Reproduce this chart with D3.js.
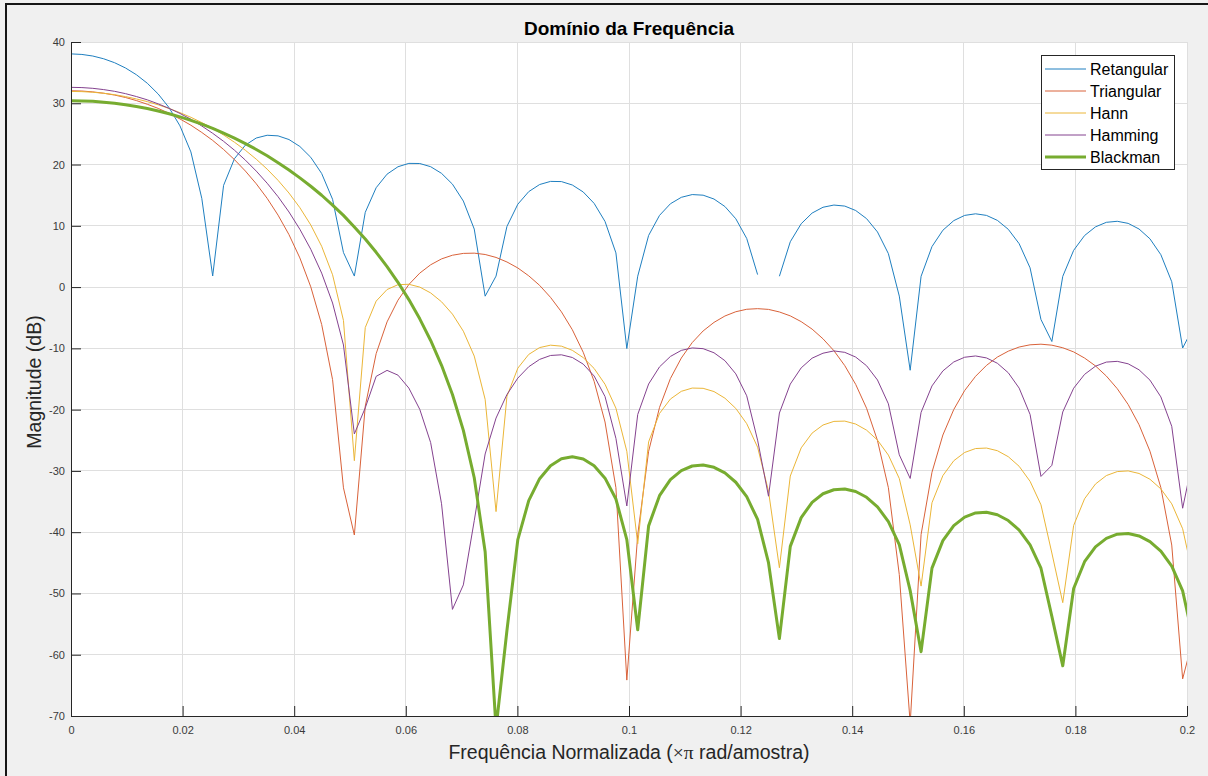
<!DOCTYPE html>
<html>
<head>
<meta charset="utf-8">
<script src="https://cdn.jsdelivr.net/npm/d3@7"></script>
<style>
  html, body { margin: 0; padding: 0; background: #f0f0f0; }
  svg { display: block; font-family: "Liberation Sans", Arial, Helvetica, sans-serif; }
</style>
</head>
<body>
<svg id="chart" width="1208" height="776"></svg>
<script>
// Normalized frequency grid (x pi rad/sample), 512-point freqz spacing
const freq = [
  0, 0.001953, 0.003906, 0.005859, 0.007813, 0.009766, 0.011719, 0.013672, 0.015625, 0.017578,
  0.019531, 0.021484, 0.023438, 0.025391, 0.027344, 0.029297, 0.03125, 0.033203, 0.035156, 0.037109,
  0.039063, 0.041016, 0.042969, 0.044922, 0.046875, 0.048828, 0.050781, 0.052734, 0.054688, 0.056641,
  0.058594, 0.060547, 0.0625, 0.064453, 0.066406, 0.068359, 0.070313, 0.072266, 0.074219, 0.076172,
  0.078125, 0.080078, 0.082031, 0.083984, 0.085938, 0.087891, 0.089844, 0.091797, 0.09375, 0.095703,
  0.097656, 0.099609, 0.101563, 0.103516, 0.105469, 0.107422, 0.109375, 0.111328, 0.113281, 0.115234,
  0.117188, 0.119141, 0.121094, 0.123047, 0.125, 0.126953, 0.128906, 0.130859, 0.132813, 0.134766,
  0.136719, 0.138672, 0.140625, 0.142578, 0.144531, 0.146484, 0.148438, 0.150391, 0.152344, 0.154297,
  0.15625, 0.158203, 0.160156, 0.162109, 0.164063, 0.166016, 0.167969, 0.169922, 0.171875, 0.173828,
  0.175781, 0.177734, 0.179688, 0.181641, 0.183594, 0.185547, 0.1875, 0.189453, 0.191406, 0.193359,
  0.195313, 0.197266, 0.199219, 0.201172
];

// Magnitude responses in dB (null = exact zero, log undefined)
const retangular = [
  38.06, 37.97, 37.71, 37.26, 36.62, 35.76, 34.66, 33.27, 31.51, 29.28,
  26.31, 22.06, 14.48, 1.81, 16.60, 20.96, 23.17, 24.33, 24.78, 24.68,
  24.08, 22.95, 21.18, 18.54, 14.33, 5.64, 1.80, 12.20, 16.22, 18.43,
  19.64, 20.19, 20.17, 19.65, 18.56, 16.80, 14.04, 9.47, -1.48, 1.79,
  9.90, 13.53, 15.58, 16.74, 17.25, 17.22, 16.66, 15.52, 13.66, 10.71,
  5.58, -10.03, 1.78, 8.43, 11.70, 13.60, 14.65, 15.10, 15.00, 14.37,
  13.15, 11.15, 7.94, 2.04, null, 1.77, 7.40, 10.34, 12.08, 13.03,
  13.39, 13.22, 12.50, 11.17, 9.00, 5.46, -1.47, -13.57, 1.76, 6.61,
  9.28, 10.85, 11.70, 11.96, 11.70, 10.89, 9.43, 7.08, 3.14, -5.29,
  -8.88, 1.75, 6.00, 8.41, 9.83, 10.57, 10.74, 10.40, 9.48, 7.88,
  5.29, 0.87, -9.94, -6.52
];

const triangular = [
  32.04, 32.00, 31.86, 31.64, 31.34, 30.94, 30.44, 29.84, 29.16, 28.36,
  27.44, 26.42, 25.24, 23.94, 22.46, 20.80, 18.94, 16.86, 14.48, 11.74,
  8.56, 4.76, 0.04, -6.10, -15.10, -32.76, -40.46, -19.44, -10.86, -5.68,
  -2.14, 0.42, 2.28, 3.64, 4.60, 5.20, 5.50, 5.54, 5.32, 4.84,
  4.10, 3.12, 1.84, 0.28, -1.68, -4.04, -6.96, -10.64, -15.38, -22.02,
  -32.74, -64.14, -40.42, -26.80, -19.64, -14.92, -11.58, -9.06, -7.16, -5.76,
  -4.72, -4.02, -3.62, -3.52, -3.64, -4.06, -4.70, -5.64, -6.86, -8.44,
  -10.38, -12.82, -15.88, -19.78, -25.04, -32.74, -46.92, -71.22, -40.38, -30.22,
  -24.14, -19.98, -16.88, -14.56, -12.78, -11.42, -10.46, -9.78, -9.42, -9.32,
  -9.48, -9.90, -10.58, -11.58, -12.86, -14.52, -16.58, -19.16, -22.46, -26.78,
  -32.72, -42.10, -63.94, -57.08
];

const hann = [
  31.93, 31.90, 31.80, 31.63, 31.40, 31.09, 30.71, 30.27, 29.75, 29.15,
  28.47, 27.71, 26.85, 25.92, 24.82, 23.64, 22.33, 20.87, 19.25, 17.42,
  15.35, 12.96, 10.14, 6.66, 2.01, -5.44, -28.33, -6.60, -2.29, -0.40,
  0.39, 0.46, 0.00, -0.95, -2.40, -4.41, -7.20, -11.26, -18.33, -36.64,
  -17.83, -13.23, -10.99, -9.87, -9.48, -9.64, -10.32, -11.51, -13.28, -15.86,
  -19.76, -26.80, -41.90, -25.26, -20.62, -18.27, -17.01, -16.48, -16.52, -17.05,
  -18.13, -19.80, -22.29, -26.13, -33.30, -45.80, -30.84, -26.24, -23.83, -22.51,
  -21.92, -21.87, -22.35, -23.35, -24.97, -27.42, -31.24, -38.80, -48.80, -35.20,
  -30.76, -28.34, -26.99, -26.35, -26.27, -26.70, -27.68, -29.25, -31.70, -35.53,
  -43.40, -51.50, -38.90, -34.55, -32.14, -30.76, -30.11, -30.00, -30.42, -31.36,
  -32.93, -35.37, -39.44, -47.55
];

const hamming = [
  32.60, 32.56, 32.44, 32.23, 31.95, 31.57, 31.10, 30.56, 29.90, 29.17,
  28.34, 27.40, 26.29, 25.10, 23.79, 22.34, 20.72, 18.93, 16.95, 14.75,
  12.26, 9.43, 6.17, 2.28, -2.60, -9.45, -23.97, -19.71, -14.57, -13.59,
  -14.37, -16.48, -19.95, -25.38, -35.36, -52.60, -48.60, -38.13, -27.24, -21.38,
  -17.53, -14.85, -13.00, -11.80, -11.16, -11.05, -11.49, -12.57, -14.51, -17.86,
  -24.69, -35.72, -20.79, -15.82, -13.02, -11.32, -10.33, -9.93, -10.05, -10.72,
  -12.01, -14.16, -17.74, -24.98, -34.13, -20.55, -15.83, -13.18, -11.60, -10.79,
  -10.42, -10.65, -11.42, -12.84, -15.16, -19.05, -27.37, -31.23, -20.44, -16.13,
  -13.68, -12.22, -11.45, -11.24, -11.56, -12.43, -13.98, -16.49, -20.78, -30.90,
  -29.09, -20.38, -16.50, -14.25, -12.91, -12.24, -12.12, -12.52, -13.50, -15.18,
  -17.92, -22.72, -36.09, -27.57
];

const blackman = [
  30.42, 30.39, 30.32, 30.18, 30.01, 29.76, 29.47, 29.14, 28.74, 28.29,
  27.78, 27.22, 26.59, 25.91, 25.13, 24.31, 23.42, 22.46, 21.43, 20.31,
  19.12, 17.83, 16.46, 14.99, 13.39, 11.70, 9.82, 7.84, 5.68, 3.34,
  0.78, -2.04, -5.18, -8.71, -12.76, -17.52, -23.39, -31.12, -43.18, -72.00,
  -56.05, -41.20, -34.86, -31.27, -29.15, -28.03, -27.70, -28.07, -29.17, -31.18,
  -34.59, -41.21, -55.94, -38.97, -34.04, -31.43, -29.94, -29.20, -29.05, -29.41,
  -30.33, -31.85, -34.21, -37.92, -44.98, -57.37, -42.32, -37.62, -35.13, -33.73,
  -33.07, -32.95, -33.36, -34.30, -35.86, -38.26, -42.03, -49.54, -59.50, -45.86,
  -41.38, -38.92, -37.54, -36.86, -36.75, -37.15, -38.10, -39.65, -42.07, -45.88,
  -53.73, -61.81, -49.19, -44.82, -42.39, -41.00, -40.33, -40.21, -40.61, -41.54,
  -43.10, -45.53, -49.59, -57.69
];

const seriesNames = ["Retangular", "Triangular", "Hann", "Hamming", "Blackman"];
const seriesColors = ["#1f7fc0", "#d9623a", "#ebb638", "#84428f", "#77AC30"];
const seriesWidths = [1, 1, 1, 1, 3];
const seriesValues = [retangular, triangular, hann, hamming, blackman];

const xTicks = [0, 0.02, 0.04, 0.06, 0.08, 0.1, 0.12, 0.14, 0.16, 0.18, 0.2];
const xTickLabels = ["0", "0.02", "0.04", "0.06", "0.08", "0.1", "0.12", "0.14", "0.16", "0.18", "0.2"];
const yTicks = [-70, -60, -50, -40, -30, -20, -10, 0, 10, 20, 30, 40];
const yTickLabels = ["-70", "-60", "-50", "-40", "-30", "-20", "-10", "0", "10", "20", "30", "40"];

const W = 1208, H = 776;
const plot = { left: 71, right: 1187, top: 42, bottom: 716 };
const axisColor = "#262626";

const svg = d3.select("#chart");

const x = d3.scaleLinear().domain([0, 0.2]).range([plot.left, plot.right]);
const y = d3.scaleLinear().domain([-70, 40]).range([plot.bottom, plot.top]);

// figure background and frame
svg.append("rect").attr("width", W).attr("height", H).attr("fill", "#f0f0f0");
svg.append("path")
  .attr("d", `M6,${H}V4H${W}`)
  .attr("fill", "none").attr("stroke", "#161616").attr("stroke-width", 2);

// axes background
svg.append("rect")
  .attr("x", plot.left).attr("y", plot.top)
  .attr("width", plot.right - plot.left).attr("height", plot.bottom - plot.top)
  .attr("fill", "#ffffff");

// grid
const grid = svg.append("g").attr("stroke", "#dfdfdf").attr("stroke-width", 1).attr("shape-rendering", "crispEdges");
grid.selectAll("line.gx").data(xTicks.slice(1)).join("line")
  .attr("class", "gx")
  .attr("x1", d => x(d)).attr("x2", d => x(d))
  .attr("y1", plot.top).attr("y2", plot.bottom);
grid.selectAll("line.gy").data(yTicks.slice(1)).join("line")
  .attr("class", "gy")
  .attr("x1", plot.left).attr("x2", plot.right)
  .attr("y1", d => y(d)).attr("y2", d => y(d));

// clip curves to the axes box
svg.append("defs").append("clipPath").attr("id", "plotClip")
  .append("rect")
  .attr("x", plot.left).attr("y", plot.top)
  .attr("width", plot.right - plot.left).attr("height", plot.bottom - plot.top);

const line = d3.line()
  .defined(d => d[1] !== null)
  .x(d => x(d[0]))
  .y(d => y(d[1]));

const curves = svg.append("g").attr("clip-path", "url(#plotClip)");
seriesValues.forEach((vals, i) => {
  const pts = freq.map((f, k) => [f, vals[k]]);
  curves.append("path")
    .datum(pts)
    .attr("d", line)
    .attr("fill", "none")
    .attr("stroke", seriesColors[i])
    .attr("stroke-width", seriesWidths[i])
    .attr("stroke-linejoin", "round");
});

// axes (ticks pointing inward)
const xAxis = d3.axisBottom(x)
  .tickValues(xTicks)
  .tickFormat((d, i) => xTickLabels[i])
  .tickSizeInner(-10).tickSizeOuter(0).tickPadding(10);
const yAxis = d3.axisLeft(y)
  .tickValues(yTicks)
  .tickFormat((d, i) => yTickLabels[i])
  .tickSizeInner(-10).tickSizeOuter(0).tickPadding(6);

const gx = svg.append("g").attr("transform", `translate(0,${plot.bottom})`).call(xAxis);
const gy = svg.append("g").attr("transform", `translate(${plot.left},0)`).call(yAxis);
[gx, gy].forEach(g => {
  g.select(".domain").attr("stroke", axisColor).attr("stroke-width", 1);
  g.selectAll(".tick line").attr("stroke", axisColor).attr("stroke-width", 1);
  g.selectAll(".tick text")
    .attr("fill", "#3a3a3a")
    .style("font-family", "'Liberation Sans', Arial, sans-serif")
    .style("font-size", "11px");
});

// title and axis labels
svg.append("text")
  .attr("x", (plot.left + plot.right) / 2).attr("y", 35)
  .attr("text-anchor", "middle")
  .style("font-size", "19px").style("font-weight", "bold")
  .attr("fill", "#000")
  .text("Domínio da Frequência");

const xl = svg.append("text")
  .attr("x", (plot.left + plot.right) / 2).attr("y", 759)
  .attr("text-anchor", "middle")
  .style("font-size", "19.5px")
  .attr("fill", axisColor);
xl.append("tspan").text("Frequência Normalizada (");
xl.append("tspan").style("font-family", "'Liberation Serif', 'DejaVu Serif', serif").text("\u00D7\u03C0");
xl.append("tspan").text(" rad/amostra)");

svg.append("text")
  .attr("transform", "translate(41,382) rotate(-90)")
  .attr("text-anchor", "middle")
  .style("font-size", "19.5px")
  .attr("fill", axisColor)
  .text("Magnitude (dB)");

// legend
const legend = svg.append("g");
legend.append("rect")
  .attr("x", 1041.5).attr("y", 55.5).attr("width", 133).attr("height", 114)
  .attr("fill", "#ffffff").attr("stroke", axisColor).attr("stroke-width", 1);
const rows = legend.selectAll("g.row").data(seriesNames).join("g")
  .attr("class", "row")
  .attr("transform", (d, i) => `translate(0,${69 + i * 22})`);
rows.append("line")
  .attr("x1", 1045).attr("x2", 1086)
  .attr("stroke", (d, i) => seriesColors[i])
  .attr("stroke-width", (d, i) => seriesWidths[i]);
rows.append("text")
  .attr("x", 1090).attr("dy", "0.35em")
  .style("font-size", "16px")
  .attr("fill", "#000")
  .text(d => d);
</script>
</body>
</html>
